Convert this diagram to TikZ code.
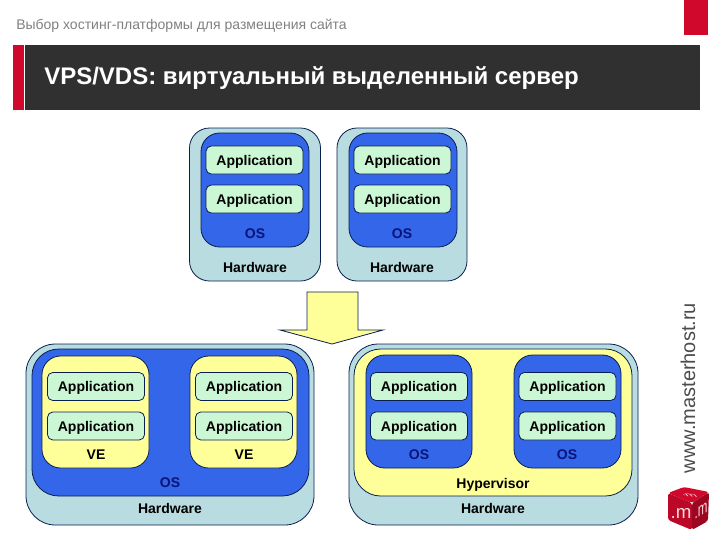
\documentclass[tikz,border=0pt]{standalone}
\usepackage{fontspec}
\setmainfont{Liberation Sans}
\usepackage{xcolor}
\usetikzlibrary{positioning}
\definecolor{hwteal}{RGB}{184,220,224}
\definecolor{osblue}{RGB}{51,102,232}
\definecolor{appgreen}{RGB}{204,247,212}
\definecolor{veyellow}{RGB}{255,255,153}
\definecolor{linenavy}{RGB}{10,30,80}
\definecolor{barblack}{RGB}{48,48,48}
\definecolor{barred}{RGB}{208,8,44}
\definecolor{osnavy}{RGB}{10,20,120}
\tikzset{
  wh/.style 2 args={minimum width=#1*0.75pt, minimum height=#2*0.75pt},
  layer/.style={draw=linenavy, line width=0.6pt, inner sep=0pt, outer sep=0pt},
  hwbox/.style ={layer, fill=hwteal, rounded corners=15pt},
  osbox/.style ={layer, fill=osblue, rounded corners=14pt},
  vebox/.style ={layer, fill=veyellow, rounded corners=14pt},
  appbox/.style={layer, fill=appgreen, rounded corners=4pt, wh={97}{28}, text depth=0pt,
                 font=\fontsize{10.5}{12}\selectfont\bfseries},
  lbl/.style   ={font=\fontsize{10.5}{12}\selectfont\bfseries, inner sep=0pt, text depth=0pt},
  oslbl/.style ={lbl, text=osnavy},
  cubetxt/.style={inner sep=0pt, text=white!85!red, font=\fontsize{14}{16}\selectfont},
}
\begin{document}
\begin{tikzpicture}[x=0.75pt,y=-0.75pt]
  \useasboundingbox (0,0) rectangle (720,540);
  % header
  \node[anchor=west, inner sep=0pt, text=black!50, font=\fontsize{10.5}{12}\selectfont] (crumb) at (16,26) {Выбор хостинг-платформы для размещения сайта};
  \fill[barred] (684,0) rectangle (708,35);
  \node[fill=barblack, inner sep=0pt, wh={675}{65}, anchor=north west] (bar) at (25,45) {};
  \node[fill=barred, inner sep=0pt, wh={11}{65}, anchor=north east] (barmark) at (24,45) {};
  \node[anchor=west, inner sep=0pt, text=white, font=\fontsize{18}{21}\selectfont\bfseries] (title) at (44,78) {VPS/VDS: виртуальный выделенный сервер};
  % top pair
  \node[hwbox, wh={131}{153}] (hwa) at (255,204.5) {};
  \node[osbox, wh={108}{114}] (osa) at (255,190) {};
  \node[appbox] (appa) at (254.5,160) {Application};
  \node[appbox] (appb) at (254.5,199) {Application};
  \node[oslbl] (osla) at (255,234) {OS};
  \node[lbl] (hwla) at (255,267) {Hardware};
  \node[hwbox, wh={130}{153}] (hwb) at (402,204.5) {};
  \node[osbox, wh={108}{114}] (osb) at (403,190) {};
  \node[appbox] (appc) at (402.5,160) {Application};
  \node[appbox] (appd) at (402.5,199) {Application};
  \node[oslbl] (oslb) at (402,234) {OS};
  \node[lbl] (hwlb) at (402,267) {Hardware};
  % arrow
  \draw[draw=linenavy, line width=0.6pt, fill=veyellow] (307,292) -- (358,292) -- (358,330) -- (383,330) -- (332,344) -- (280,330) -- (307,330) -- cycle;
  % bottom left
  \node[hwbox, wh={288}{181}, rounded corners=22pt] (hwc) at (170,434.5) {};
  \node[osbox, wh={277}{147}, rounded corners=20pt] (osc) at (170.5,422.5) {};
  \node[vebox, wh={107}{112}] (vea) at (95.5,412) {};
  \node[vebox, wh={107}{112}] (veb) at (243.5,412) {};
  \node[appbox] (appe) at (96,386.5) {Application};
  \node[appbox] (appf) at (96,426) {Application};
  \node[appbox] (appg) at (244,386.5) {Application};
  \node[appbox] (apph) at (244,426) {Application};
  \node[lbl] (vela) at (96,455) {VE};
  \node[lbl] (velb) at (244,455) {VE};
  \node[oslbl] (oslc) at (170,483) {OS};
  \node[lbl] (hwlc) at (170,508) {Hardware};
  % bottom right
  \node[hwbox, wh={289}{181}, rounded corners=22pt] (hwd) at (493.5,434.5) {};
  \node[vebox, wh={278}{147}, rounded corners=20pt] (hyp) at (493,422.5) {};
  \node[osbox, wh={106}{113}] (osd) at (419,411.5) {};
  \node[osbox, wh={107}{113}] (ose) at (567.5,411.5) {};
  \node[appbox] (appi) at (419,386.5) {Application};
  \node[appbox] (appj) at (419,426) {Application};
  \node[appbox] (appk) at (567.5,386.5) {Application};
  \node[appbox] (appl) at (567.5,426) {Application};
  \node[oslbl] (osld) at (419,455) {OS};
  \node[oslbl] (osle) at (567,455) {OS};
  \node[lbl] (hypl) at (493,483) {Hypervisor};
  \node[lbl] (hwld) at (493,508) {Hardware};
  % site name and cube
  \node[rotate=90, inner sep=0pt, text=black!70, font=\fontsize{15}{18}\selectfont] (site) at (688,388) {www.masterhost.ru};
  \fill[barred!90!black, rounded corners=2pt] (668,493) -- (692,503) -- (692,530) -- (668,520) -- cycle;
  \fill[barred!75!black, rounded corners=2pt] (692,503) -- (709,492) -- (708,521) -- (692,530) -- cycle;
  \fill[barred, rounded corners=2pt] (668,493) -- (684,487) -- (709,492) -- (692,503) -- cycle;
  \node[cubetxt] (cubea) at (681,513) {.m};
  \node[cubetxt, xscale=0.62, yslant=0.35] (cubeb) at (701,511) {.m};
  \node[cubetxt, font=\fontsize{8}{9}\selectfont, xscale=1.2, yscale=0.5, xslant=-0.6, rotate=-12] (cubec) at (689,495) {.m};
\end{tikzpicture}
\end{document}
